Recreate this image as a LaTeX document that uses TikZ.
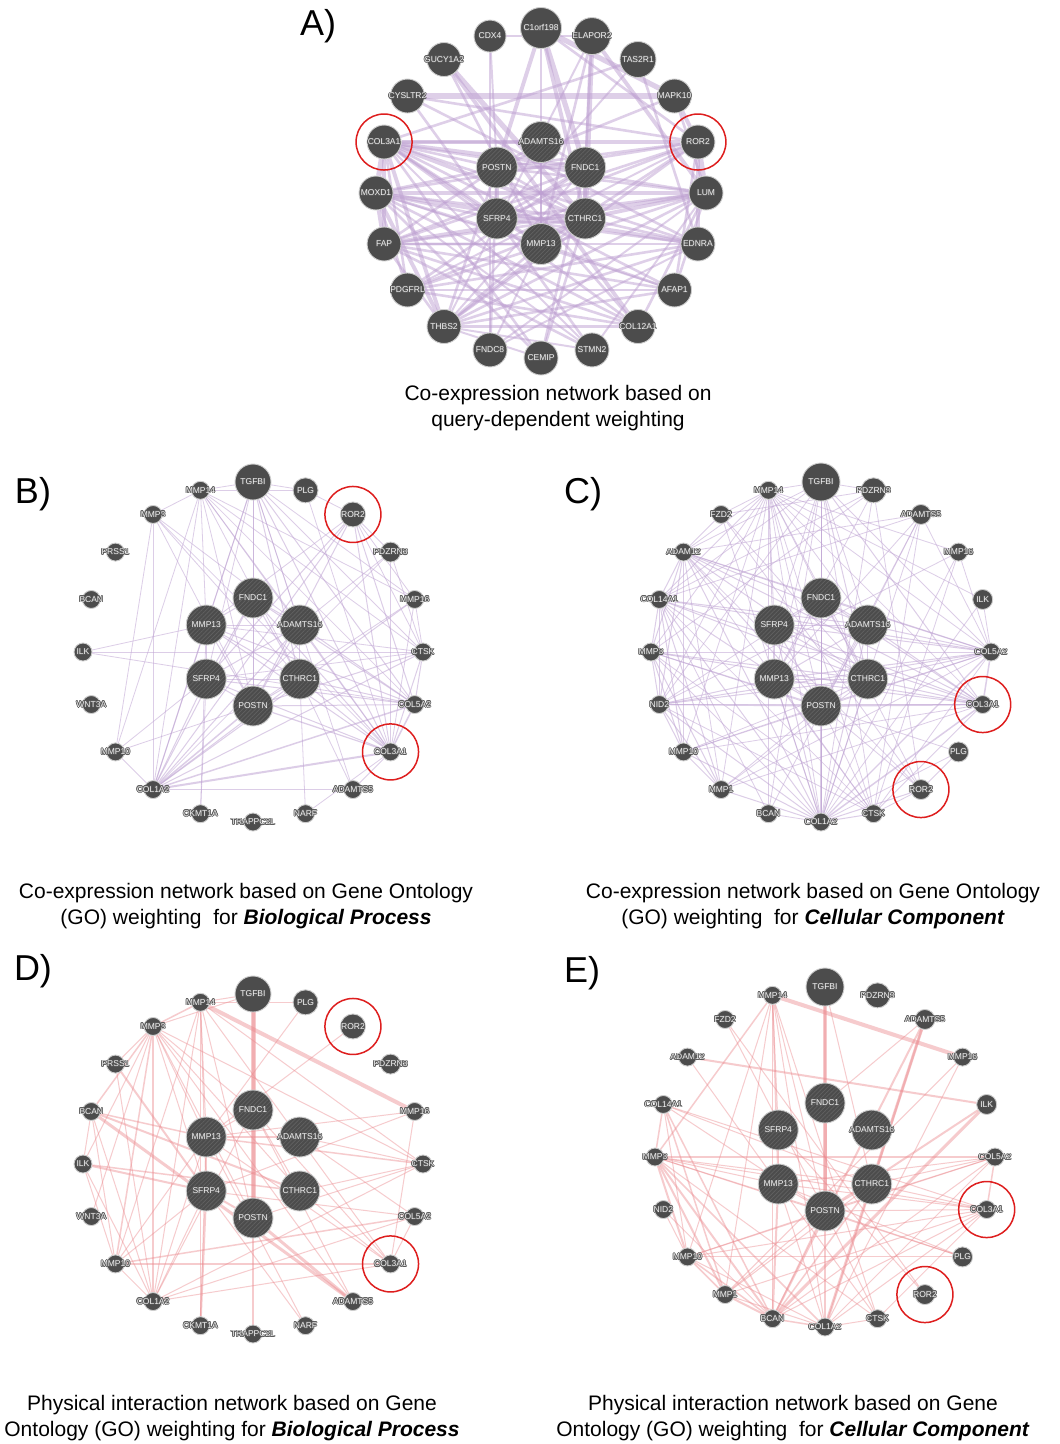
\documentclass[tikz,border=0pt]{standalone}
\usepackage{fontspec}
\setmainfont{Liberation Sans}
\usetikzlibrary{patterns.meta}

\definecolor{nodegray}{RGB}{76,76,76}
\definecolor{hatchgray}{RGB}{98,98,98}
\definecolor{nodeline}{RGB}{205,205,205}
\definecolor{labtxt}{RGB}{242,242,242}
\definecolor{halo}{RGB}{88,88,88}
\definecolor{lavA}{RGB}{190,160,210}
\definecolor{lavB}{RGB}{192,165,212}
\definecolor{pinkD}{RGB}{236,140,145}
\definecolor{ringred}{RGB}{222,30,30}

\pgfdeclarelayer{bg}
\pgfdeclarelayer{edges}
\pgfsetlayers{bg,edges,main}

\newcommand\labfont{\fontsize{8.5}{9}\selectfont}
\newcommand\capfont{\fontsize{21}{26}\selectfont}
\newcommand\letterfont{\fontsize{36}{40}\selectfont}
% one shifted grey copy of a label
\newcommand\halocopy[3]{\rlap{\kern#1\raisebox{#2}{\textcolor{halo}{#3}}}}
% gene label: light text with a grey halo, set in a zero-width box so it never resizes the node
\newcommand\glab[1]{\makebox[0pt]{%
  \halocopy{-.75pt}{0pt}{#1}\halocopy{.75pt}{0pt}{#1}\halocopy{0pt}{.75pt}{#1}\halocopy{0pt}{-.75pt}{#1}%
  \halocopy{-.55pt}{.55pt}{#1}\halocopy{.55pt}{.55pt}{#1}\halocopy{-.55pt}{-.55pt}{#1}\halocopy{.55pt}{-.55pt}{#1}%
  #1}}

\tikzset{
  gene/.style={circle, inner sep=0pt, fill=nodegray, draw=nodeline, line width=0.9pt, text=labtxt, font=\labfont,
    text height=5.5pt, text depth=0pt},
  hub/.style={circle, inner sep=0pt, minimum size=40pt, draw=nodeline, line width=0.9pt,
    preaction={fill=nodegray}, pattern={Lines[angle=45,distance=3pt,line width=0.7pt]}, pattern color=hatchgray,
    text=labtxt, font=\labfont, text height=5.5pt, text depth=0pt},
  redring/.style={circle, inner sep=0pt, minimum size=56pt, draw=ringred, line width=1.5pt},
  edgeA/.style={draw=lavA, draw opacity=0.5},
  edgeB/.style={draw=lavB, draw opacity=0.55},
  edgeD/.style={draw=pinkD, draw opacity=0.45},
  caption/.style={align=center, font=\capfont},
  letter/.style={font=\letterfont},
}

% circular layout used by the Biological Process panels
\newcommand\layoutBD[2]{%
  \begin{scope}[shift={#2}]
    \foreach \n/\r [count=\i from 0] in {TGFBI/18,PLG/12.5,ROR2/12.5,PDZRN3/10,MMP16/9,CTSK/9,COL5A2/9,COL3A1/9,ADAMTS5/9,NARF/9,TRAPPC2L/9,CKMT1A/9,COL1A2/9,MMP10/9,WNT3A/9,ILK/9,BCAN/9,PRSS1/9,MMP3/9,MMP14/9}
      \node[gene, minimum size=2*\r] (#1\n) at ({\i*18-90}:170) {\glab{\n}};
    \foreach \n [count=\i from 0] in {FNDC1,ADAMTS16,CTHRC1,POSTN,SFRP4,MMP13}
      \node[hub] (#1\n) at ({\i*60-90}:54) {\glab{\n}};
  \end{scope}}

% circular layout used by the Cellular Component panels
\newcommand\layoutCE[2]{%
  \begin{scope}[shift={#2}]
    \foreach \n/\r [count=\i from 0] in {TGFBI/19,PDZRN3/12.5,ADAMTS5/10,MMP16/9,ILK/10,COL5A2/9,COL3A1/9,PLG/10,ROR2/10,CTSK/9,COL1A2/9,BCAN/9,MMP1/9,MMP10/9,NID2/9,MMP3/9,COL14A1/9,ADAM12/9,FZD2/9,MMP14/9}
      \node[gene, minimum size=2*\r] (#1\n) at ({\i*18-90}:170) {\glab{\n}};
    \foreach \n [count=\i from 0] in {FNDC1,ADAMTS16,CTHRC1,POSTN,MMP13,SFRP4}
      \node[hub] (#1\n) at ({\i*60-90}:54) {\glab{\n}};
  \end{scope}}

\begin{document}
\begin{tikzpicture}[x=1pt, y=-1pt]
\useasboundingbox (0,0) rectangle (1060,1444);
\begin{pgfonlayer}{bg}
  \fill[white] (0,0) rectangle (1060,1444);
\end{pgfonlayer}

% ---------- A: query-dependent co-expression ----------
\begin{scope}[shift={(541,193)}]
  \foreach \n/\r [count=\i from 0] in {C1orf198/20.5,ELAPOR2/18.5,TAS2R1/18,MAPK10/17,ROR2/17,LUM/17,EDNRA/17,AFAP1/17,COL12A1/17,STMN2/17,CEMIP/17,FNDC8/17,THBS2/17,PDGFRL/17,FAP/17,MOXD1/17,COL3A1/17,CYSLTR2/17,GUCY1A2/17,CDX4/16}
    \node[gene, minimum size=2*\r] (a\n) at ({\i*18-90}:165) {\glab{\n}};
  \foreach \n [count=\i from 0] in {ADAMTS16,FNDC1,CTHRC1,MMP13,SFRP4,POSTN}
    \node[hub, minimum size=41pt] (a\n) at ({\i*60-90}:51) {\glab{\n}};
\end{scope}
\node[redring] (ringA1) at (aCOL3A1) {};
\node[redring] (ringA2) at (aROR2) {};
\node[letter] (letA) at (318,26) {A)};
\node[caption] (capA) at (558,408) {Co-expression network based on\\query-dependent weighting};

\begin{pgfonlayer}{edges}
\foreach \u/\v/\w in {ADAMTS16/FNDC1/2, ADAMTS16/POSTN/2, POSTN/SFRP4/3, FNDC1/CTHRC1/3, SFRP4/MMP13/2, MMP13/CTHRC1/2, POSTN/FNDC1/2, SFRP4/CTHRC1/2, POSTN/CTHRC1/2, FNDC1/SFRP4/2, ADAMTS16/MMP13/2,
 COL3A1/ROR2/3, COL3A1/ADAMTS16/2, COL3A1/FNDC1/3, COL3A1/POSTN/2, COL3A1/CTHRC1/3, COL3A1/SFRP4/2, COL3A1/MMP13/2, COL3A1/LUM/2, COL3A1/EDNRA/2, COL3A1/AFAP1/2, COL3A1/COL12A1/2, COL3A1/THBS2/3, COL3A1/FAP/3, COL3A1/MOXD1/4, COL3A1/PDGFRL/2, COL3A1/STMN2/1.5, COL3A1/CEMIP/2,
 C1orf198/POSTN/3, C1orf198/FNDC1/4, C1orf198/CTHRC1/3, C1orf198/MAPK10/4, C1orf198/ROR2/2, C1orf198/MMP13/2,
 ELAPOR2/CTHRC1/4, ELAPOR2/LUM/3, ELAPOR2/MMP13/2, ELAPOR2/FNDC1/2, ELAPOR2/THBS2/1.5,
 TAS2R1/COL3A1/2, TAS2R1/EDNRA/2, TAS2R1/SFRP4/1.5,
 MAPK10/ROR2/3, MAPK10/CYSLTR2/4, MAPK10/LUM/2, MAPK10/POSTN/2,
 CDX4/POSTN/1.5, CDX4/FNDC8/1.5, CDX4/ELAPOR2/1.5,
 GUCY1A2/CTHRC1/4, GUCY1A2/COL12A1/3, GUCY1A2/MMP13/2,
 CYSLTR2/ROR2/2, CYSLTR2/EDNRA/2, CYSLTR2/SFRP4/2,
 ROR2/LUM/4, ROR2/EDNRA/3, ROR2/AFAP1/2, ROR2/SFRP4/2, ROR2/POSTN/2, ROR2/MMP13/2, ROR2/FAP/2, ROR2/THBS2/2, ROR2/MOXD1/2, ROR2/PDGFRL/1.5,
 LUM/MOXD1/3, LUM/FAP/3, LUM/THBS2/2, LUM/POSTN/2, LUM/SFRP4/2, LUM/CTHRC1/3, LUM/COL12A1/2, LUM/AFAP1/2, LUM/STMN2/1.5, LUM/PDGFRL/2,
 EDNRA/FAP/2, EDNRA/MOXD1/3, EDNRA/SFRP4/2, EDNRA/PDGFRL/2, EDNRA/THBS2/2, EDNRA/FNDC8/1.5, EDNRA/CTHRC1/2,
 AFAP1/THBS2/2, AFAP1/FAP/2, AFAP1/MMP13/2, AFAP1/PDGFRL/2,
 COL12A1/FAP/2, COL12A1/THBS2/3, COL12A1/PDGFRL/2, COL12A1/MOXD1/2, COL12A1/POSTN/2,
 STMN2/FAP/2, STMN2/THBS2/1.5, STMN2/SFRP4/2, STMN2/MOXD1/1.5,
 CEMIP/MOXD1/2, CEMIP/FNDC1/2, CEMIP/CTHRC1/2, CEMIP/THBS2/1.5,
 FNDC8/POSTN/2, FNDC8/LUM/1.5, FNDC8/MMP13/1.5,
 THBS2/MOXD1/3, THBS2/FAP/2, THBS2/POSTN/2, THBS2/MMP13/2, THBS2/CTHRC1/2, THBS2/FNDC1/1.5,
 PDGFRL/MOXD1/2, PDGFRL/FNDC1/2, PDGFRL/CTHRC1/2,
 FAP/MOXD1/3, FAP/POSTN/2, FAP/FNDC1/2, FAP/CTHRC1/2, FAP/MMP13/2,
 MOXD1/POSTN/2, MOXD1/SFRP4/2, MOXD1/CTHRC1/2, MOXD1/MMP13/2, MOXD1/AFAP1/1.5}
  \draw[edgeA, line width=1.3*\w] (a\u) -- (a\v);
\end{pgfonlayer}

% ---------- B: co-expression, Biological Process ----------
\layoutBD{b}{(253,652)}
\node[redring] (ringB1) at (bROR2) {};
\node[redring] (ringB2) at (bCOL3A1) {};
\node[letter] (letB) at (33,494) {B)};
\node[caption] (capB) at (246,906) {Co-expression network based on Gene Ontology\\(GO) weighting\ \ for \textbf{\textit{Biological Process}}};

\begin{pgfonlayer}{edges}
\foreach \u/\v/\w in {TGFBI/MMP14/.8, TGFBI/PLG/.8, TGFBI/POSTN/1, TGFBI/FNDC1/1, TGFBI/MMP13/.8, TGFBI/COL1A2/1, TGFBI/COL3A1/1, TGFBI/COL5A2/1, TGFBI/CTSK/.8, TGFBI/ADAMTS16/.8, TGFBI/SFRP4/.8, TGFBI/CTHRC1/1, TGFBI/MMP16/.8, TGFBI/ADAMTS5/.8,
 PLG/ROR2/.8, PLG/MMP14/.8, PLG/COL3A1/.8,
 ROR2/COL1A2/1, ROR2/SFRP4/1, ROR2/POSTN/1, ROR2/MMP13/.8, ROR2/COL3A1/1, ROR2/PDZRN3/.8, ROR2/CTSK/.8, ROR2/MMP16/.8, ROR2/COL5A2/1,
 PDZRN3/COL3A1/.8, PDZRN3/COL1A2/.8, PDZRN3/ADAMTS16/.8, PDZRN3/CTSK/.8,
 MMP16/COL3A1/.8, MMP16/COL1A2/1, MMP16/MMP14/.8, MMP16/CTSK/.8, MMP16/POSTN/.8,
 CTSK/ILK/.8, CTSK/COL1A2/1, CTSK/MMP14/.8, CTSK/COL3A1/1, CTSK/SFRP4/.8, CTSK/POSTN/1, CTSK/MMP13/.8, CTSK/COL5A2/1,
 COL5A2/COL1A2/1.5, COL5A2/COL3A1/1.5, COL5A2/POSTN/1, COL5A2/CTHRC1/1, COL5A2/SFRP4/1, COL5A2/MMP13/1, COL5A2/ADAMTS16/1, COL5A2/FNDC1/1, COL5A2/MMP14/.8,
 COL3A1/COL1A2/2, COL3A1/POSTN/1.2, COL3A1/CTHRC1/1, COL3A1/SFRP4/1, COL3A1/MMP13/1, COL3A1/FNDC1/1, COL3A1/ADAMTS16/1, COL3A1/ADAMTS5/.8, COL3A1/NARF/.8, COL3A1/MMP14/.8, COL3A1/MMP3/.8,
 ADAMTS5/COL1A2/.8, ADAMTS5/CTHRC1/.8, NARF/CTHRC1/.8, CKMT1A/SFRP4/.8, CKMT1A/MMP13/.8,
 COL1A2/POSTN/1.5, COL1A2/SFRP4/1, COL1A2/MMP13/1, COL1A2/CTHRC1/1, COL1A2/ADAMTS16/1, COL1A2/FNDC1/1, COL1A2/MMP10/.8, COL1A2/MMP14/.8, COL1A2/MMP3/.8,
 MMP10/MMP3/.8, MMP10/MMP14/.8, MMP10/SFRP4/.8, MMP10/POSTN/.8, ILK/COL5A2/.8, ILK/MMP13/.8,
 MMP3/MMP14/.8, MMP3/CTHRC1/.8, MMP3/ADAMTS16/.8, MMP3/POSTN/.8,
 MMP14/POSTN/.8, MMP14/CTHRC1/.8, MMP14/ADAMTS16/.8, MMP14/MMP13/.8,
 FNDC1/MMP13/1, FNDC1/ADAMTS16/1, FNDC1/POSTN/1, FNDC1/SFRP4/1, FNDC1/CTHRC1/1, MMP13/SFRP4/1, MMP13/ADAMTS16/1, MMP13/CTHRC1/1, ADAMTS16/CTHRC1/1, ADAMTS16/SFRP4/1, SFRP4/POSTN/1, CTHRC1/POSTN/1, SFRP4/CTHRC1/1, MMP13/POSTN/1, ADAMTS16/POSTN/1}
  \draw[edgeB, line width=\w] (b\u) -- (b\v);
\end{pgfonlayer}

% ---------- C: co-expression, Cellular Component ----------
\layoutCE{c}{(821,652)}
\node[redring] (ringC1) at (cCOL3A1) {};
\node[redring] (ringC2) at (cROR2) {};
\node[letter] (letC) at (583,494) {C)};
\node[caption] (capC) at (813,906) {Co-expression network based on Gene Ontology\\(GO) weighting\ \ for \textbf{\textit{Cellular Component}}};

\begin{pgfonlayer}{edges}
\foreach \u/\v/\w in {TGFBI/MMP14/.8, TGFBI/PDZRN3/.8, TGFBI/COL1A2/1, TGFBI/COL3A1/1, TGFBI/COL5A2/1, TGFBI/POSTN/1, TGFBI/FNDC1/1, TGFBI/SFRP4/.8, TGFBI/MMP13/.8, TGFBI/CTHRC1/1, TGFBI/ADAMTS16/.8, TGFBI/ADAM12/.8, TGFBI/NID2/.8, TGFBI/COL14A1/.8, TGFBI/CTSK/.8, TGFBI/BCAN/.8,
 PDZRN3/FZD2/.8, PDZRN3/COL1A2/.8, PDZRN3/ROR2/.8, PDZRN3/MMP13/.8, PDZRN3/COL14A1/.8, PDZRN3/MMP3/.8,
 ADAMTS5/COL1A2/.8, ADAMTS5/POSTN/.8, ADAMTS5/CTSK/.8, ADAMTS5/COL14A1/.8, ADAMTS5/ADAM12/.8, ADAMTS5/MMP13/.8, ADAMTS5/BCAN/.8, ADAMTS5/COL5A2/.8,
 MMP16/COL5A2/.8, MMP16/COL1A2/.8, MMP16/MMP14/.8, MMP16/CTSK/.8, MMP16/NID2/.8,
 ILK/COL5A2/.8, ILK/COL1A2/.8, ILK/MMP14/.8,
 COL5A2/COL1A2/1.2, COL5A2/COL3A1/1.5, COL5A2/NID2/1, COL5A2/MMP3/1, COL5A2/COL14A1/1, COL5A2/ADAM12/1, COL5A2/POSTN/1, COL5A2/CTHRC1/1, COL5A2/MMP13/1, COL5A2/SFRP4/1, COL5A2/ADAMTS16/1, COL5A2/FNDC1/1, COL5A2/MMP1/.8, COL5A2/MMP10/.8, COL5A2/MMP14/.8, COL5A2/CTSK/.8,
 COL3A1/COL1A2/1.5, COL3A1/NID2/1.5, COL3A1/MMP3/1, COL3A1/COL14A1/1, COL3A1/ADAM12/1, COL3A1/POSTN/1.5, COL3A1/CTHRC1/1, COL3A1/MMP13/1, COL3A1/SFRP4/1, COL3A1/FNDC1/1, COL3A1/ADAMTS16/1, COL3A1/MMP1/.8, COL3A1/MMP10/.8, COL3A1/CTSK/.8, COL3A1/MMP14/.8,
 PLG/COL1A2/.8, PLG/MMP3/.8, PLG/ROR2/.8,
 ROR2/COL1A2/1, ROR2/FZD2/.8, ROR2/MMP14/.8, ROR2/ADAM12/.8, ROR2/CTSK/.8, ROR2/POSTN/.8,
 CTSK/COL1A2/1, CTSK/MMP14/.8, CTSK/NID2/.8, CTSK/MMP3/.8, CTSK/ADAM12/.8, CTSK/COL14A1/.8, CTSK/POSTN/.8, CTSK/MMP13/.8,
 COL1A2/NID2/1, COL1A2/MMP3/1, COL1A2/COL14A1/1, COL1A2/ADAM12/1, COL1A2/MMP1/1, COL1A2/MMP10/1, COL1A2/POSTN/1.2, COL1A2/MMP13/1, COL1A2/SFRP4/1, COL1A2/CTHRC1/1, COL1A2/FNDC1/1, COL1A2/ADAMTS16/1, COL1A2/MMP14/.8, COL1A2/FZD2/.8, COL1A2/BCAN/.8,
 BCAN/MMP14/.8, BCAN/COL14A1/.8,
 MMP1/MMP3/1, MMP1/NID2/1, MMP1/MMP10/1, MMP1/COL14A1/1, MMP1/MMP14/.8, MMP1/ADAM12/.8, MMP1/POSTN/.8, MMP1/CTHRC1/.8,
 MMP10/MMP3/1, MMP10/NID2/1, MMP10/COL14A1/1, MMP10/ADAM12/.8, MMP10/MMP14/.8, MMP10/CTHRC1/.8, MMP10/POSTN/.8,
 NID2/MMP3/1, NID2/COL14A1/1, NID2/ADAM12/1, NID2/POSTN/1.2, NID2/CTHRC1/1, NID2/MMP13/1, NID2/FNDC1/.8, NID2/MMP14/.8,
 MMP3/COL14A1/1, MMP3/ADAM12/1, MMP3/MMP14/.8, MMP3/POSTN/1, MMP3/CTHRC1/1,
 COL14A1/ADAM12/1, COL14A1/CTHRC1/1, COL14A1/ADAMTS16/1, COL14A1/POSTN/1, COL14A1/MMP14/.8,
 ADAM12/CTHRC1/1, ADAM12/ADAMTS16/1, ADAM12/POSTN/1, ADAM12/FNDC1/.8, ADAM12/MMP14/.8, ADAM12/FZD2/.8,
 FZD2/MMP14/.8, FZD2/CTHRC1/.8,
 MMP14/CTHRC1/.8, MMP14/ADAMTS16/.8, MMP14/POSTN/.8, MMP14/MMP13/.8, MMP14/SFRP4/.8,
 FNDC1/MMP13/1, FNDC1/ADAMTS16/1, FNDC1/POSTN/1, FNDC1/SFRP4/1, FNDC1/CTHRC1/1, MMP13/SFRP4/1, MMP13/ADAMTS16/1, MMP13/CTHRC1/1, ADAMTS16/CTHRC1/1, ADAMTS16/SFRP4/1, SFRP4/POSTN/1, CTHRC1/POSTN/1, SFRP4/CTHRC1/1, MMP13/POSTN/1, ADAMTS16/POSTN/1}
  \draw[edgeB, line width=\w] (c\u) -- (c\v);
\end{pgfonlayer}

% ---------- D: physical interaction, Biological Process ----------
\layoutBD{d}{(253,1164)}
\node[redring] (ringD1) at (dROR2) {};
\node[redring] (ringD2) at (dCOL3A1) {};
\node[letter] (letD) at (33,971) {D)};
\node[caption] (capD) at (232,1418) {Physical interaction network based on Gene\\Ontology (GO) weighting for \textbf{\textit{Biological Process}}};

\begin{pgfonlayer}{edges}
\foreach \u/\v/\w in {TGFBI/POSTN/5, TGFBI/FNDC1/3, TGFBI/MMP14/1, TGFBI/MMP3/1,
 MMP14/MMP16/4, MMP14/MMP3/1.5, MMP14/COL3A1/1, MMP14/CTSK/1, MMP14/MMP13/1, MMP14/SFRP4/1, MMP14/CKMT1A/1, MMP14/COL1A2/1, MMP14/MMP10/1, MMP14/POSTN/1,
 MMP3/BCAN/1.5, MMP3/PRSS1/1, MMP3/MMP10/1.5, MMP3/COL1A2/1.5, MMP3/MMP13/1, MMP3/SFRP4/1, MMP3/POSTN/1, MMP3/ADAMTS5/1, MMP3/CTSK/1, MMP3/CTHRC1/1, MMP3/FNDC1/1, MMP3/ILK/1, MMP3/WNT3A/1,
 PRSS1/SFRP4/2, PRSS1/COL1A2/1,
 BCAN/ADAMTS5/3, BCAN/CTHRC1/2, BCAN/MMP10/1, BCAN/COL1A2/1, BCAN/MMP13/1.5, BCAN/ILK/1,
 ILK/SFRP4/2, ILK/CTHRC1/1.5, ILK/COL1A2/1, ILK/MMP10/1,
 ROR2/MMP13/1, PLG/MMP13/1, PLG/MMP14/1,
 MMP16/COL3A1/1, MMP16/MMP13/1, MMP16/SFRP4/1,
 CTSK/MMP13/1.5, CTSK/ADAMTS16/1, CTSK/COL1A2/1, CTSK/CTHRC1/1, CTSK/POSTN/1,
 COL5A2/MMP10/1.5, COL5A2/COL1A2/1, COL5A2/COL3A1/1, COL5A2/SFRP4/1, COL5A2/ADAMTS16/1,
 COL3A1/MMP10/2, COL3A1/COL1A2/1, COL3A1/CTHRC1/1, COL3A1/FNDC1/1, COL3A1/MMP13/1,
 ADAMTS5/POSTN/3, ADAMTS5/FNDC1/1, NARF/SFRP4/1, NARF/MMP13/1, TRAPPC2L/POSTN/1.5, CKMT1A/SFRP4/2, CKMT1A/MMP13/1,
 COL1A2/SFRP4/1, COL1A2/MMP13/1, COL1A2/FNDC1/1, COL1A2/MMP10/1, MMP10/SFRP4/1, MMP10/MMP13/1,
 FNDC1/POSTN/3, MMP13/SFRP4/1, MMP13/ADAMTS16/1.5, SFRP4/POSTN/2, FNDC1/CTHRC1/1, FNDC1/MMP13/1}
  \draw[edgeD, line width=\w] (d\u) -- (d\v);
\end{pgfonlayer}

% ---------- E: physical interaction, Cellular Component ----------
\layoutCE{e}{(825,1157)}
\node[redring] (ringE1) at (eCOL3A1) {};
\node[redring] (ringE2) at (eROR2) {};
\node[letter] (letE) at (582,973) {E)};
\node[caption] (capE) at (793,1418) {Physical interaction network based on Gene\\Ontology (GO) weighting\ \ for \textbf{\textit{Cellular Component}}};

\begin{pgfonlayer}{edges}
\foreach \u/\v/\w in {TGFBI/POSTN/4, TGFBI/FNDC1/2, TGFBI/CTHRC1/1,
 MMP14/MMP16/4, MMP14/MMP3/1.5, MMP14/MMP13/1.5, MMP14/SFRP4/1, MMP14/POSTN/1, MMP14/BCAN/1.5, MMP14/MMP1/1, MMP14/COL1A2/1, MMP14/CTSK/1, MMP14/MMP10/1,
 ADAMTS5/COL1A2/3, ADAMTS5/CTHRC1/2, ADAMTS5/BCAN/2, ADAMTS5/FNDC1/1,
 ADAM12/ILK/2, ADAM12/MMP13/1, ILK/BCAN/3, ILK/POSTN/2, FZD2/ROR2/1, FZD2/POSTN/1, MMP16/MMP1/1, MMP16/COL1A2/1,
 COL14A1/MMP3/1.5, COL14A1/MMP1/1.5, COL14A1/BCAN/1.5, COL14A1/POSTN/1, COL14A1/CTHRC1/1, COL14A1/COL3A1/1, COL14A1/MMP10/1,
 MMP3/COL5A2/1.5, MMP3/BCAN/2, MMP3/MMP1/2, MMP3/MMP10/2, MMP3/COL1A2/1.5, MMP3/CTSK/1, MMP3/POSTN/1, MMP3/CTHRC1/1, MMP3/COL3A1/1, MMP3/MMP13/1, MMP3/PLG/1,
 NID2/MMP10/1, NID2/BCAN/1,
 MMP10/BCAN/1.5, MMP10/MMP1/1.5, MMP10/COL1A2/1, MMP10/COL3A1/1, MMP10/POSTN/1, MMP10/COL5A2/1, MMP10/PLG/1,
 MMP1/BCAN/2, MMP1/COL1A2/1, MMP1/POSTN/1, MMP1/CTHRC1/1, MMP1/COL3A1/1,
 BCAN/COL1A2/1.5, BCAN/CTHRC1/1.5, BCAN/POSTN/1.5, BCAN/COL5A2/1, BCAN/COL3A1/1, BCAN/MMP13/2,
 COL1A2/CTSK/1, COL1A2/COL3A1/1, COL1A2/COL5A2/1, COL1A2/POSTN/1.5, COL1A2/CTHRC1/1, COL1A2/MMP13/1,
 CTSK/COL3A1/1, CTSK/MMP13/1, CTSK/POSTN/1,
 COL5A2/COL3A1/1.5, COL5A2/POSTN/1, COL5A2/MMP13/1, COL5A2/CTHRC1/1,
 COL3A1/POSTN/1, COL3A1/MMP13/1, COL3A1/CTHRC1/1, PLG/POSTN/1, PLG/MMP13/1, ROR2/SFRP4/1,
 FNDC1/POSTN/3, MMP13/POSTN/1, CTHRC1/POSTN/1, SFRP4/MMP13/1}
  \draw[edgeD, line width=\w] (e\u) -- (e\v);
\end{pgfonlayer}
\end{tikzpicture}
\end{document}
